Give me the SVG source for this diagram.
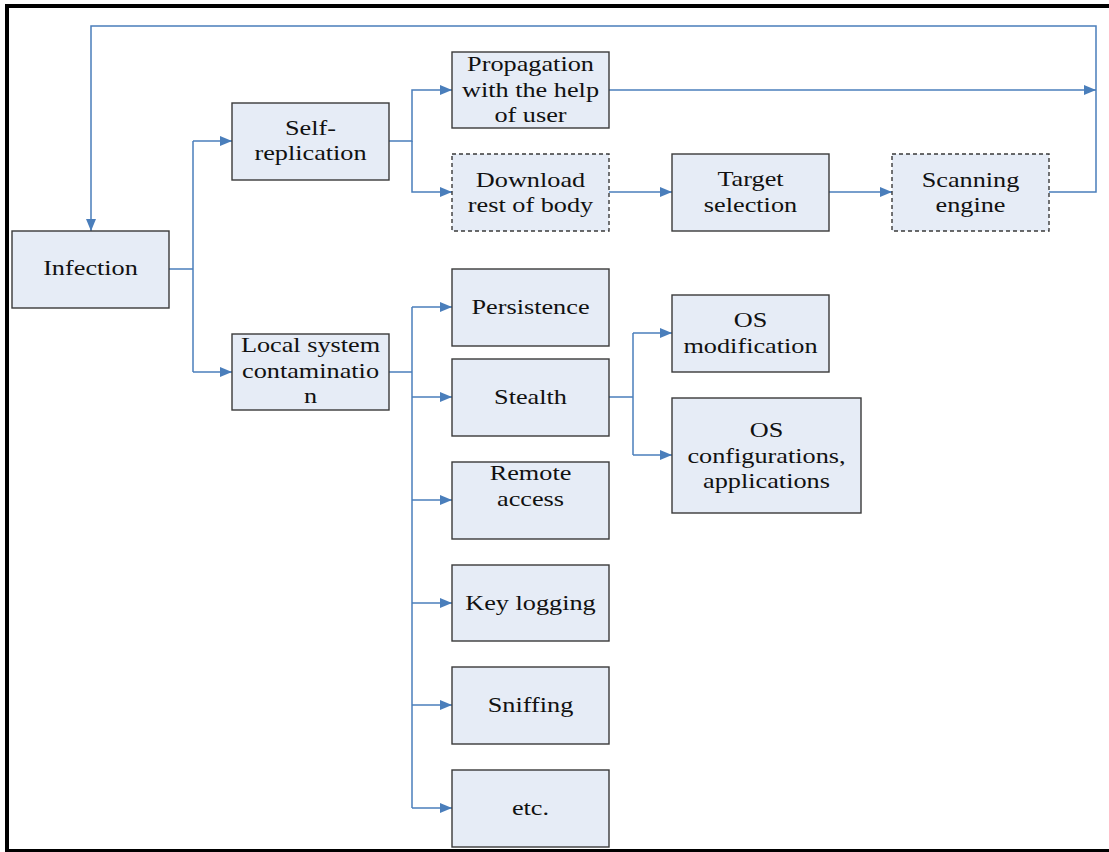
<svg xmlns="http://www.w3.org/2000/svg" width="1109" height="852" viewBox="0 0 1109 852">
<style>
.box{fill:#e6ecf6;stroke:#3a3a3a;stroke-width:1.4}
.dash{stroke-dasharray:4 3}
.lbl{font-family:"Liberation Serif","Times New Roman",serif;font-size:21px;fill:#111;text-anchor:middle}
.con{fill:none;stroke:#4a7ebb;stroke-width:1.5}
</style>
<defs>
<marker id="ah" markerUnits="userSpaceOnUse" markerWidth="13" markerHeight="11" refX="12" refY="5" orient="auto">
<path d="M0,0 L12,5 L0,10 z" fill="#4a7ebb"/>
</marker>
</defs>
<rect x="0" y="0" width="1109" height="852" fill="#fff"/>
<rect x="7" y="6" width="1200" height="845" fill="none" stroke="#000" stroke-width="4"/>
<g id="connectors">
<path class="con" d="M1049,192 H1096 V26 H91 V231" marker-end="url(#ah)"/>
<path class="con" d="M609,90 H1096" marker-end="url(#ah)"/>
<path class="con" d="M169,269 H193"/>
<path class="con" d="M193,141 V372"/>
<path class="con" d="M193,141 H232" marker-end="url(#ah)"/>
<path class="con" d="M193,372 H232" marker-end="url(#ah)"/>
<path class="con" d="M389,141 H412 V90 H452" marker-end="url(#ah)"/>
<path class="con" d="M412,141 V192 H452" marker-end="url(#ah)"/>
<path class="con" d="M609,192 H672" marker-end="url(#ah)"/>
<path class="con" d="M829,192 H892" marker-end="url(#ah)"/>
<path class="con" d="M389,372 H412"/>
<path class="con" d="M412,307 V808"/>
<path class="con" d="M412,307 H452" marker-end="url(#ah)"/>
<path class="con" d="M412,397 H452" marker-end="url(#ah)"/>
<path class="con" d="M412,500 H452" marker-end="url(#ah)"/>
<path class="con" d="M412,603 H452" marker-end="url(#ah)"/>
<path class="con" d="M412,705 H452" marker-end="url(#ah)"/>
<path class="con" d="M412,808 H452" marker-end="url(#ah)"/>
<path class="con" d="M609,397 H633"/>
<path class="con" d="M633,333 V455"/>
<path class="con" d="M633,333 H672" marker-end="url(#ah)"/>
<path class="con" d="M633,455 H672" marker-end="url(#ah)"/>
</g>
<g id="infection">
<rect class="box" x="12" y="231" width="157" height="77"/>
<text class="lbl" transform="matrix(1.25 0 0 1 90.5 0)"><tspan x="0" y="275">Infection</tspan></text>
</g>
<g id="self-replication">
<rect class="box" x="232" y="103" width="157" height="77"/>
<text class="lbl" transform="matrix(1.25 0 0 1 310.5 0)"><tspan x="0" y="135">Self-</tspan><tspan x="0" y="160">replication</tspan></text>
</g>
<g id="propagation">
<rect class="box" x="452" y="52" width="157" height="76"/>
<text class="lbl" transform="matrix(1.25 0 0 1 530.5 0)"><tspan x="0" y="71">Propagation</tspan><tspan x="0" y="97">with the help</tspan><tspan x="0" y="122">of user</tspan></text>
</g>
<g id="download">
<rect class="box dash" x="452" y="154" width="157" height="77"/>
<text class="lbl" transform="matrix(1.25 0 0 1 530.5 0)"><tspan x="0" y="187">Download</tspan><tspan x="0" y="212">rest of body</tspan></text>
</g>
<g id="target-selection">
<rect class="box" x="672" y="154" width="157" height="77"/>
<text class="lbl" transform="matrix(1.25 0 0 1 750.5 0)"><tspan x="0" y="186">Target</tspan><tspan x="0" y="212">selection</tspan></text>
</g>
<g id="scanning-engine">
<rect class="box dash" x="892" y="154" width="157" height="77"/>
<text class="lbl" transform="matrix(1.25 0 0 1 970.5 0)"><tspan x="0" y="187">Scanning</tspan><tspan x="0" y="212">engine</tspan></text>
</g>
<g id="local-system">
<rect class="box" x="232" y="334" width="157" height="76"/>
<text class="lbl" transform="matrix(1.25 0 0 1 310.5 0)"><tspan x="0" y="352">Local system</tspan><tspan x="0" y="378">contaminatio</tspan><tspan x="0" y="403">n</tspan></text>
</g>
<g id="persistence">
<rect class="box" x="452" y="269" width="157" height="77"/>
<text class="lbl" transform="matrix(1.25 0 0 1 530.5 0)"><tspan x="0" y="314">Persistence</tspan></text>
</g>
<g id="stealth">
<rect class="box" x="452" y="359" width="157" height="77"/>
<text class="lbl" transform="matrix(1.25 0 0 1 530.5 0)"><tspan x="0" y="404">Stealth</tspan></text>
</g>
<g id="remote-access">
<rect class="box" x="452" y="462" width="157" height="77"/>
<text class="lbl" transform="matrix(1.25 0 0 1 530.5 0)"><tspan x="0" y="480">Remote</tspan><tspan x="0" y="506">access</tspan></text>
</g>
<g id="key-logging">
<rect class="box" x="452" y="565" width="157" height="76"/>
<text class="lbl" transform="matrix(1.25 0 0 1 530.5 0)"><tspan x="0" y="610">Key logging</tspan></text>
</g>
<g id="sniffing">
<rect class="box" x="452" y="667" width="157" height="77"/>
<text class="lbl" transform="matrix(1.25 0 0 1 530.5 0)"><tspan x="0" y="712">Sniffing</tspan></text>
</g>
<g id="etc">
<rect class="box" x="452" y="770" width="157" height="77"/>
<text class="lbl" transform="matrix(1.25 0 0 1 530.5 0)"><tspan x="0" y="815">etc.</tspan></text>
</g>
<g id="os-modification">
<rect class="box" x="672" y="295" width="157" height="77"/>
<text class="lbl" transform="matrix(1.25 0 0 1 750.5 0)"><tspan x="0" y="327">OS</tspan><tspan x="0" y="353">modification</tspan></text>
</g>
<g id="os-configurations">
<rect class="box" x="672" y="398" width="189" height="115"/>
<text class="lbl" transform="matrix(1.25 0 0 1 766.5 0)"><tspan x="0" y="437">OS</tspan><tspan x="0" y="463">configurations,</tspan><tspan x="0" y="488">applications</tspan></text>
</g>
</svg>
